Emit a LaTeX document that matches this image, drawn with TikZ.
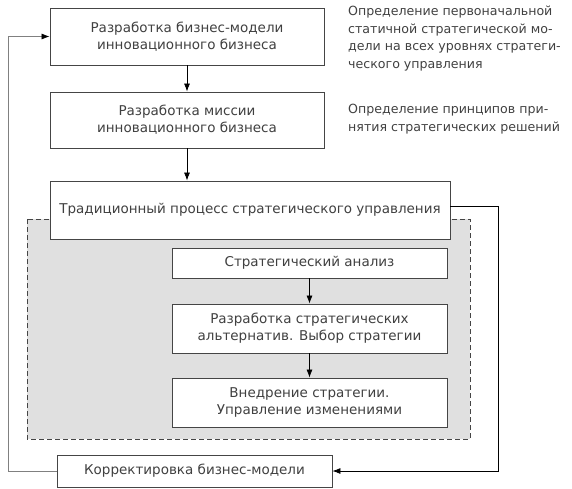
\documentclass[tikz,border=0pt]{standalone}
\usepackage{fontspec}
\setmainfont{DejaVu Sans}
\usepackage{tikz}
\usetikzlibrary{positioning,calc,arrows.meta}

\definecolor{edgegray}{HTML}{454545}
\definecolor{textgray}{HTML}{404040}
\definecolor{areagray}{HTML}{E0E0E0}

\begin{document}
\begin{tikzpicture}[x=1pt, y=-1pt,
    every node/.style={font=\fontsize{13.5}{17.3}\selectfont, text=textgray},
    stepbox/.style={draw=edgegray, line width=0.9pt, fill=white, align=center, inner sep=0pt},
    note/.style={align=left, anchor=west, inner sep=0pt, font=\fontsize{12.6}{17.5}\selectfont},
    flow/.style={-{Latex[length=8pt,width=6pt]}, line width=0.7pt, black}]
    \useasboundingbox (0,0) rectangle (572,488);

    % Dashed area
    \draw[dash pattern=on 5pt off 3pt, draw=edgegray, line width=0.8pt, fill=areagray] (27,219) rectangle (470,439);

    % Main chain
    \node[stepbox, minimum width=274pt, minimum height=57pt] (model) at (187,36.5) {Разработка бизнес-модели\\инновационного бизнеса};
    \node[stepbox, minimum width=274pt, minimum height=56pt] (mission) at (187,120) {Разработка миссии\\инновационного бизнеса};
    \node[stepbox, minimum width=400pt, minimum height=58pt] (process) at (250,210) {Традиционный процесс стратегического управления};

    % Inner boxes
    \node[stepbox, minimum width=275pt, minimum height=30pt] (analysis) at (309.5,263) {Стратегический анализ};
    \node[stepbox, minimum width=275pt, minimum height=49pt] (choice) at (309.5,328.5) {Разработка стратегических\\альтернатив. Выбор стратегии};
    \node[stepbox, minimum width=275pt, minimum height=49pt] (impl) at (309.5,402.5) {Внедрение стратегии.\\Управление изменениями};

    % Correction
    \node[stepbox, minimum width=275pt, minimum height=32pt] (correct) at (194.5,471) {Корректировка бизнес-модели};

    % Notes
    \node[note] (note1) at (348,38.5) {Определение первоначальной\\статичной стратегической мо-\\дели на всех уровнях стратеги-\\ческого управления};
    \node[note] (note2) at (348,119) {Определение принципов при-\\нятия стратегических решений};

    % Arrows
    \draw[flow] (model) -- (mission);
    \draw[flow] (mission.south) -- (mission.south |- process.north);
    \draw[flow] (analysis) -- (choice);
    \draw[flow] (choice) -- (impl);

    \coordinate (backtop) at (8,36.5);
    \coordinate (outright) at (498,206);
    \draw[-{Latex[length=8pt,width=6pt,black]}, line width=0.7pt, draw=gray] (correct.west) -| (backtop) -- (model.west);
    \draw[flow] ($(process.east)+(0,-4)$) -- (outright) |- (correct.east);
\end{tikzpicture}
\end{document}
